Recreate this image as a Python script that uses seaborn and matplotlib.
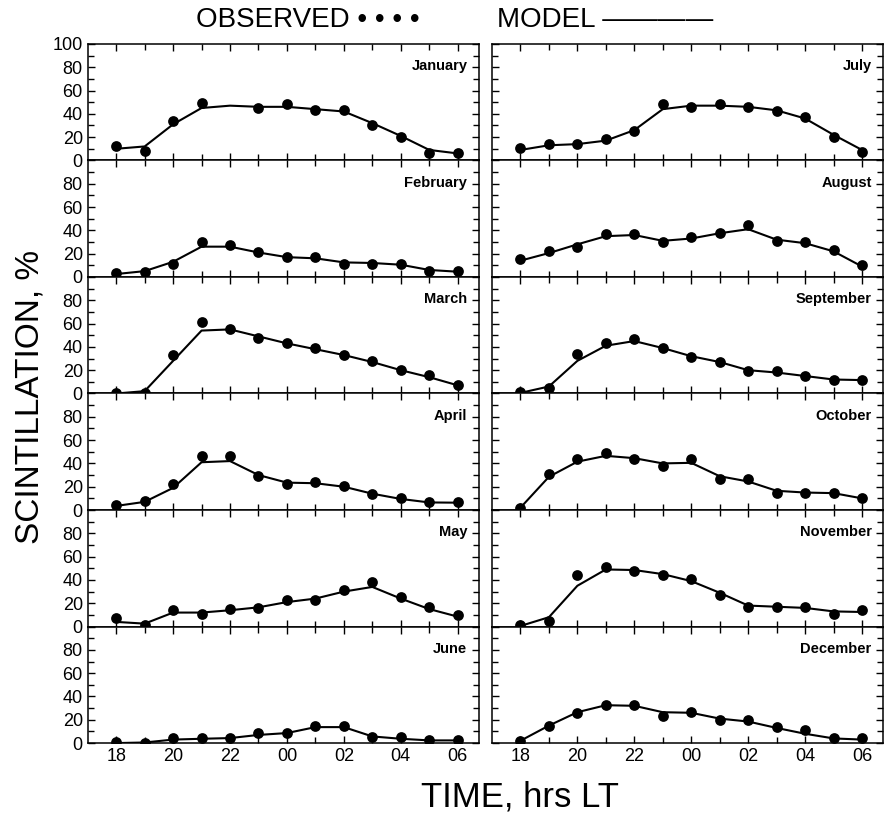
import numpy as np
import pandas as pd
import matplotlib.pyplot as plt
import seaborn as sns

#%% data (scintillation occurrence, %)

hours = [18, 19, 20, 21, 22, 23, 24, 25, 26, 27, 28, 29, 30]
tick_hours = [18, 20, 22, 24, 26, 28, 30]
tick_labels = ['18', '20', '22', '00', '02', '04', '06']
months = ['January', 'February', 'March', 'April', 'May', 'June',
          'July', 'August', 'September', 'October', 'November', 'December']

obs_jan = [12, 8, 34, 49, np.nan, 45, 48, 43, 43, 30, 20, 6, 6]
obs_feb = [3, 4, 11, 30, 27, 21.5, 17, 17, 11.5, 11.5, 11.5, 5, 5]
obs_mar = [0, 0, 33, 61, 55, 48, 43, 39, 33, 28, 20, 16, 7]
obs_apr = [4.5, 7.5, 22, 46, 46, 29, 22.5, 24, 21, 14, 10, 6.5, 6.5]
obs_may = [7, 1, 14, 11, 15, 16, 23, 23, 31, 38, 25, 17, 10]
obs_jun = [0.5, 0, 4, 4, 4.5, 8.5, 9, 15, 15, 5, 5, 2.5, 2.5]
obs_jul = [11, 14, 14, 18, 25, 48, 46, 48, 46, 42, 37, 20, 7]
obs_aug = [15, 22, 26, 37, 37, 30, 34, 38, 45, 31, 30, 23, 10]
obs_sep = [1, 5, 34, 43, 47, 39, 31, 27, 19, 19, 15, 12, 12]
obs_oct = [2, 31, 43.5, 49, 44, 38, 44, 26.5, 27, 15, 15, 15, 10.5]
obs_nov = [1, 5, 44, 51, 48, 44, 41, 27.5, 16.5, 16.5, 17, 11, 14]
obs_dec = [2, 15, 26, 33, 33, 23, 27, 20, 20, 14, 11, 4.5, 4.5]

model_jan = [10, 12, 31, 45, 47, 46, 46, 44, 42, 32, 21, 9, 6]
model_feb = [2.5, 5, 13, 26, 26, 21, 17, 16, 12.5, 12, 10.5, 6, 4.5]
model_mar = [0, 2, 28, 54, 55, 49, 43, 38, 33, 27, 20, 14, 7]
model_apr = [3.5, 7, 19, 41, 42, 30, 23.5, 23, 20, 14, 9.5, 6.5, 6.3]
model_may = [4, 2.5, 12, 12, 14, 16.5, 21, 24, 30, 34, 24, 15, 8.5]
model_jun = [0, 0.5, 3, 3.7, 4.3, 7, 8.6, 13.7, 13.7, 5.7, 3.7, 2.3, 2.3]
model_jul = [9, 13, 14, 17, 26, 44, 47, 47, 46, 43, 36, 22, 9]
model_aug = [14, 20.5, 28, 35, 36, 31, 33, 37.5, 41, 32, 29, 22, 9]
model_sep = [0.5, 6, 28, 41, 45, 39, 32, 27, 20, 18, 15, 12, 11.5]
model_oct = [2, 28.5, 41.5, 46.5, 44.5, 40, 40.5, 29, 24.5, 16.5, 15, 14.5, 10]
model_nov = [0.5, 8, 35, 49, 48.5, 45, 39, 29, 18, 17, 16, 13, 12.5]
model_dec = [2, 15, 26.5, 32.5, 32, 26.5, 26, 21, 18.5, 13, 8, 4, 3]

obs = [obs_jan, obs_feb, obs_mar, obs_apr, obs_may, obs_jun,
       obs_jul, obs_aug, obs_sep, obs_oct, obs_nov, obs_dec]
model = [model_jan, model_feb, model_mar, model_apr, model_may, model_jun,
         model_jul, model_aug, model_sep, model_oct, model_nov, model_dec]

rows = []
for m, o, p in zip(months, obs, model):
    for h, a, b in zip(hours, o, p):
        rows.append({'month': m, 'hour': h, 'observed': a, 'model': b})
df = pd.DataFrame(rows)

#%% plot

sns.set_style('ticks')
plt.rcParams['font.family'] = ['Liberation Sans', 'DejaVu Sans']
plt.rcParams['text.color'] = 'black'

fig, axes = plt.subplots(6, 2, figsize=(8.86, 8.13), dpi=100)
plt.subplots_adjust(left=0.099, right=0.997, top=0.946, bottom=0.086,
                    hspace=0, wspace=0.033)

for i, month in enumerate(months):
    row = i % 6
    col = i // 6
    ax = axes[row, col]
    d = df[df['month'] == month]
    sns.lineplot(data=d, x='hour', y='model', color='black', lw=1.5, ax=ax)
    sns.scatterplot(data=d, x='hour', y='observed', color='black', s=60,
                    edgecolor='black', linewidth=0, zorder=3, ax=ax)
    ax.set_xlim(17, 30.75)
    ax.set_ylim(0, 100)
    ax.set_xlabel('')
    ax.set_ylabel('')
    ax.set_xticks(tick_hours)
    ax.set_xticks(hours, minor=True)
    ax.set_yticks([0, 20, 40, 60, 80, 100])
    ax.set_yticks([10, 30, 50, 70, 90], minor=True)
    ax.tick_params(which='both', direction='in', top=True, right=True,
                   width=1, colors='black', labelsize=13)
    ax.tick_params(which='major', length=5)
    ax.tick_params(which='minor', length=4)
    for s in ax.spines.values():
        s.set_linewidth(1.1)
        s.set_color('black')
    if row == 5:
        ax.set_xticklabels(tick_labels, fontsize=13)
    else:
        ax.set_xticklabels([])
    if col == 0:
        if row == 0:
            ax.set_yticklabels(['0', '20', '40', '60', '80', '100'])
        else:
            ax.set_yticklabels(['0', '20', '40', '60', '80', ''])
    else:
        ax.set_yticklabels([])
    ax.text(0.97, 0.81, month, transform=ax.transAxes, ha='right',
            va='center', fontsize=10.5, fontweight='bold')

fig.text(0.221, 0.975, 'OBSERVED \u2022 \u2022 \u2022 \u2022', fontsize=20,
         ha='left', va='center')
fig.text(0.561, 0.975, 'MODEL \u2014\u2014\u2014\u2014', fontsize=20,
         ha='left', va='center')
fig.text(0.034, 0.512, 'SCINTILLATION, %', rotation=90, fontsize=24,
         ha='center', va='center')
fig.text(0.587, 0.02, 'TIME, hrs LT', fontsize=25, ha='center', va='center')

plt.savefig('out.png', dpi=100)
